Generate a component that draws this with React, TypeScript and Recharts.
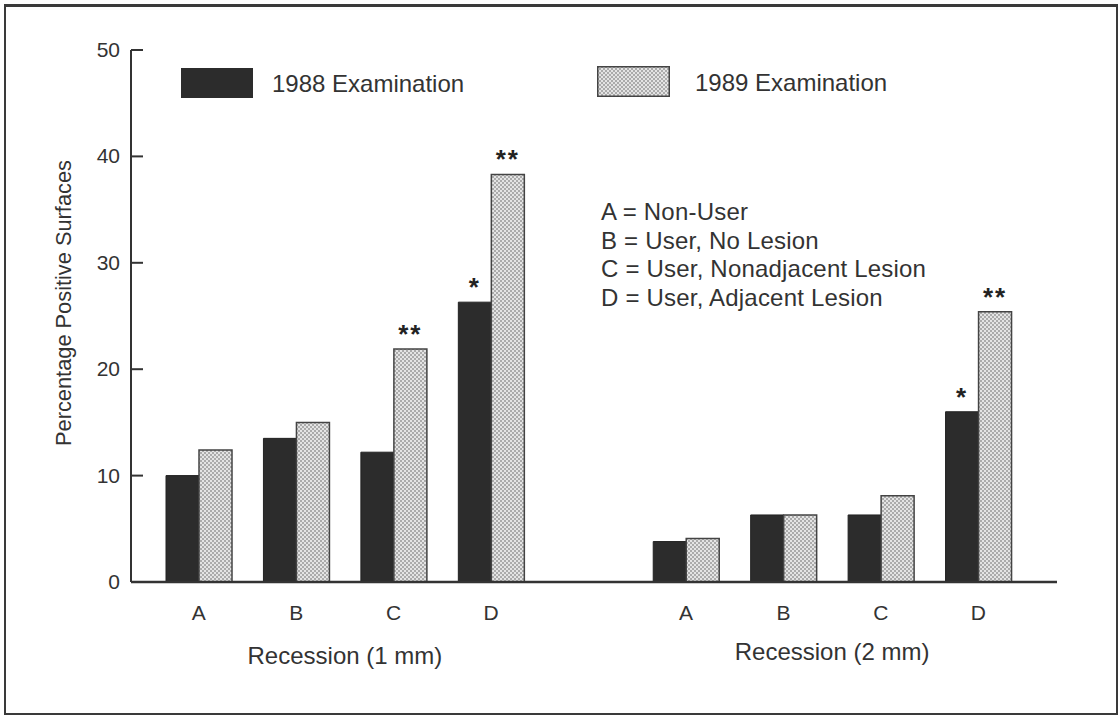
import * as React from "react";
import { BarChart, Bar, XAxis, YAxis, LabelList } from "recharts";

const categories = ["A", "B", "C", "D", "", "A", "B", "C", "D"];
const exam1988 = [10.0, 13.5, 12.2, 26.3, null, 3.8, 6.3, 6.3, 16.0];
const exam1989 = [12.4, 15.0, 21.9, 38.3, null, 4.1, 6.3, 8.1, 25.4];
const marks1988 = ["", "", "", "*", "", "", "", "", "*"];
const marks1989 = ["", "", "**", "**", "", "", "", "", "**"];
const groupTitles: { [slot: number]: string } = { 1: "Recession (1 mm)", 6: "Recession (2 mm)" };
const yTicks = [0, 10, 20, 30, 40, 50];
const keyLines = [
  "A = Non-User",
  "B = User, No Lesion",
  "C = User, Nonadjacent Lesion",
  "D = User, Adjacent Lesion"
];

const data = categories.map((c, i) => ({
  slot: i,
  cat: c,
  y1988: exam1988[i],
  y1989: exam1989[i],
  m1988: marks1988[i],
  m1989: marks1989[i]
}));

const font = '"Liberation Sans", Arial, Helvetica, sans-serif';
const ink = "#333";
const dark = "#2c2c2c";

const XTick = (props: any) => {
  const { x, y, payload } = props;
  const idx = payload.value;
  const half = payload.offset || 48.5;
  return (
    <g>
      <text x={x} y={y + 38} textAnchor="middle" fontSize={21} fill={ink} fontFamily={font}>
        {categories[idx]}
      </text>
      {groupTitles[idx] && (
        <text x={x + half} y={y + (idx === 1 ? 82 : 78)} textAnchor="middle" fontSize={24} fill={ink} fontFamily={font}>
          {groupTitles[idx]}
        </text>
      )}
    </g>
  );
};

const YTick = (props: any) => {
  const { x, y, payload } = props;
  return (
    <g>
      <line x1={x + 11} x2={x + 23} y1={y} y2={y} stroke={ink} strokeWidth={2} />
      <text x={x} y={y + 7} textAnchor="end" fontSize={21} fill={ink} fontFamily={font}>
        {payload.value}
      </text>
    </g>
  );
};

const Stars = (props: any) => {
  const { x, y, width, value } = props;
  if (!value) return null;
  return (
    <text x={x + width / 2} y={y - 6} textAnchor="middle" fontSize={26} fontWeight="bold" fill="#222" fontFamily={font} letterSpacing={2}>
      {value}
    </text>
  );
};

const LegendKey = () => (
  <div style={{ position: "absolute", left: 0, top: 0, width: 1120, height: 716, pointerEvents: "none", fontFamily: font, color: ink }}>
    <div style={{ position: "absolute", left: 181, top: 68, width: 72, height: 30, background: dark }} />
    <div style={{ position: "absolute", left: 272, top: 70, fontSize: 24, lineHeight: "28px" }}>1988 Examination</div>
    <svg style={{ position: "absolute", left: 597, top: 66 }} width={73} height={31}>
      <rect x={0.75} y={0.75} width={71.5} height={29.5} fill="url(#dots)" stroke="#444" strokeWidth={1.5} />
    </svg>
    <div style={{ position: "absolute", left: 695, top: 69, fontSize: 24, lineHeight: "28px" }}>1989 Examination</div>
    <div style={{ position: "absolute", left: 601, top: 198, fontSize: 24, lineHeight: "28.5px", letterSpacing: 0.2 }}>
      {keyLines.map(k => (
        <div key={k}>{k}</div>
      ))}
    </div>
  </div>
);

export default function App() {
  return (
    <div style={{ position: "fixed", left: 0, top: 0, width: 1120, height: 716, background: "#fff", overflow: "hidden" }}>
      <svg width={0} height={0} style={{ position: "absolute" }}>
        <defs>
          <pattern id="dots" width={4} height={4} patternUnits="userSpaceOnUse">
            <rect width={4} height={4} fill="#e4e4e4" />
            <circle cx={1} cy={1} r={0.75} fill="#555" />
            <circle cx={3} cy={3} r={0.75} fill="#555" />
          </pattern>
        </defs>
      </svg>
      <div style={{ position: "absolute", left: 4, top: 4, width: 1110, height: 706, border: "2px solid #3a3a3a", borderTopWidth: 3 }} />
      <div style={{ position: "absolute", left: 0, top: 0 }}>
        <BarChart
          width={1120}
          height={716}
          data={data}
          margin={{ top: 50, right: 63, bottom: 54, left: 71 }}
          barGap={0}
          barSize={33}
        >
          <XAxis
            dataKey="slot"
            type="category"
            height={80}
            padding={{ left: 19, right: 30 }}
            axisLine={{ stroke: ink, strokeWidth: 2.5 }}
            tickLine={false}
            tickSize={0}
            tickMargin={0}
            tick={<XTick />}
            interval={0}
          />
          <YAxis
            type="number"
            domain={[0, 50]}
            ticks={yTicks}
            width={60}
            axisLine={{ stroke: ink, strokeWidth: 2 }}
            tickLine={false}
            tickSize={0}
            tickMargin={11}
            tick={<YTick />}
            label={{
              value: "Percentage Positive Surfaces",
              angle: -90,
              position: "center",
              dx: -38,
              dy: -13,
              style: { fontSize: 21.8, fill: ink, fontFamily: font, textAnchor: "middle" }
            }}
          />
          <Bar dataKey="y1988" fill={dark} stroke="#222" strokeWidth={1} isAnimationActive={false}>
            <LabelList dataKey="m1988" content={<Stars />} />
          </Bar>
          <Bar dataKey="y1989" fill="url(#dots)" stroke="#444" strokeWidth={1.5} isAnimationActive={false}>
            <LabelList dataKey="m1989" content={<Stars />} />
          </Bar>
        </BarChart>
      </div>
      <LegendKey />
    </div>
  );
}
